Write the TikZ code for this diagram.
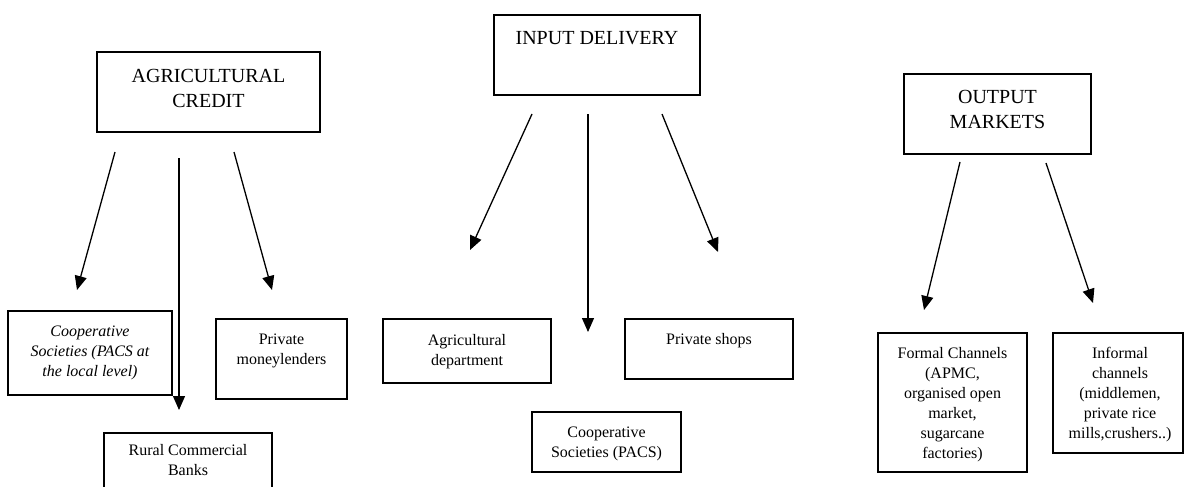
\documentclass[tikz,border=0pt]{standalone}
\usepackage{fontspec}
\setmainfont{Liberation Serif}
\newfontfamily\boxfont{Liberation Serif}
\usetikzlibrary{arrows.meta}

\tikzset{
  box/.style={draw, line width=1.3pt, inner sep=0pt},
  txt/.style={inner sep=0pt, anchor=north, align=center,
    font=\boxfont\fontsize{16}{20}\selectfont},
  head/.style={inner sep=0pt, anchor=north, align=center,
    font=\boxfont\fontsize{20}{25}\selectfont},
  link/.style={line width=1.3pt, -{Triangle[length=14pt,width=12pt]}},
}

\begin{document}
\begin{tikzpicture}[x=1pt, y=-1pt]
  \clip (0,0) rectangle (1184,487);

  % ---------------- Agricultural credit ----------------
  \node[box, minimum width=223pt, minimum height=80pt] (ac) at (208.5,92) {};
  \node[head] (ac-t) at (208.5,65.2) {\strut AGRICULTURAL\\CREDIT};

  \node[box, minimum width=164pt, minimum height=84pt] (coop) at (90,353) {};
  \node[txt, font=\boxfont\fontsize{16}{20}\selectfont\itshape] (coop-t) at (90,322)
    {\strut Cooperative\\Societies (PACS at\\the local level)};

  \node[box, minimum width=131pt, minimum height=80pt] (pm) at (281.5,359) {};
  \node[txt] (pm-t) at (281.5,330) {\strut Private\\moneylenders};

  \node[box, minimum width=168pt, minimum height=87pt] (rcb) at (188,476.5) {};
  \node[txt] (rcb-t) at (188,441.7) {\strut Rural Commercial\\Banks};

  \coordinate (ac-a1) at (115,152);  \coordinate (coop-in) at (77,290);
  \coordinate (ac-a2) at (179,158);  \coordinate (rcb-in)  at (179,410);
  \coordinate (ac-a3) at (234,152);  \coordinate (pm-in)   at (272,290);
  \draw[link] (ac-a1) -- (coop-in);
  \draw[link] (ac-a2) -- (rcb-in);
  \draw[link] (ac-a3) -- (pm-in);

  % ---------------- Input delivery ----------------
  \node[box, minimum width=206pt, minimum height=80pt] (id) at (597,55) {};
  \node[head] (id-t) at (597,26.5) {\strut INPUT DELIVERY};

  \node[box, minimum width=168pt, minimum height=64pt] (ad) at (467,351) {};
  \node[txt] (ad-t) at (467,331) {\strut Agricultural\\department};

  \node[box, minimum width=168pt, minimum height=60pt] (ps) at (709,349) {};
  \node[txt] (ps-t) at (709,330) {\strut Private shops};

  \node[box, minimum width=149pt, minimum height=60pt] (cs) at (606.5,442) {};
  \node[txt] (cs-t) at (606.5,423) {\strut Cooperative\\Societies (PACS)};

  \coordinate (id-a1) at (532,114);  \coordinate (ad-in) at (470,250);
  \coordinate (id-a2) at (588,114);  \coordinate (cs-in) at (588,332);
  \coordinate (id-a3) at (662,114);  \coordinate (ps-in) at (718,252);
  \draw[link] (id-a1) -- (ad-in);
  \draw[link] (id-a2) -- (cs-in);
  \draw[link] (id-a3) -- (ps-in);

  % ---------------- Output markets ----------------
  \node[box, minimum width=187pt, minimum height=80pt] (om) at (997.5,114) {};
  \node[head] (om-t) at (997.5,85.8) {\strut OUTPUT\\MARKETS};

  \node[box, minimum width=149pt, minimum height=139pt] (fc) at (952.5,402.5) {};
  \node[txt] (fc-t) at (952.5,344) {\strut Formal Channels\\(APMC,\\organised open\\market,\\sugarcane\\factories)};

  \node[box, minimum width=130pt, minimum height=120pt] (ic) at (1118,393) {};
  \node[txt] (ic-t) at (1120,344) {\strut Informal\\channels\\(middlemen,\\private rice\\mills,crushers..)};

  \coordinate (om-a1) at (960,162);  \coordinate (fc-in) at (924,310);
  \coordinate (om-a2) at (1046,163); \coordinate (ic-in) at (1093,303);
  \draw[link] (om-a1) -- (fc-in);
  \draw[link] (om-a2) -- (ic-in);
\end{tikzpicture}
\end{document}
